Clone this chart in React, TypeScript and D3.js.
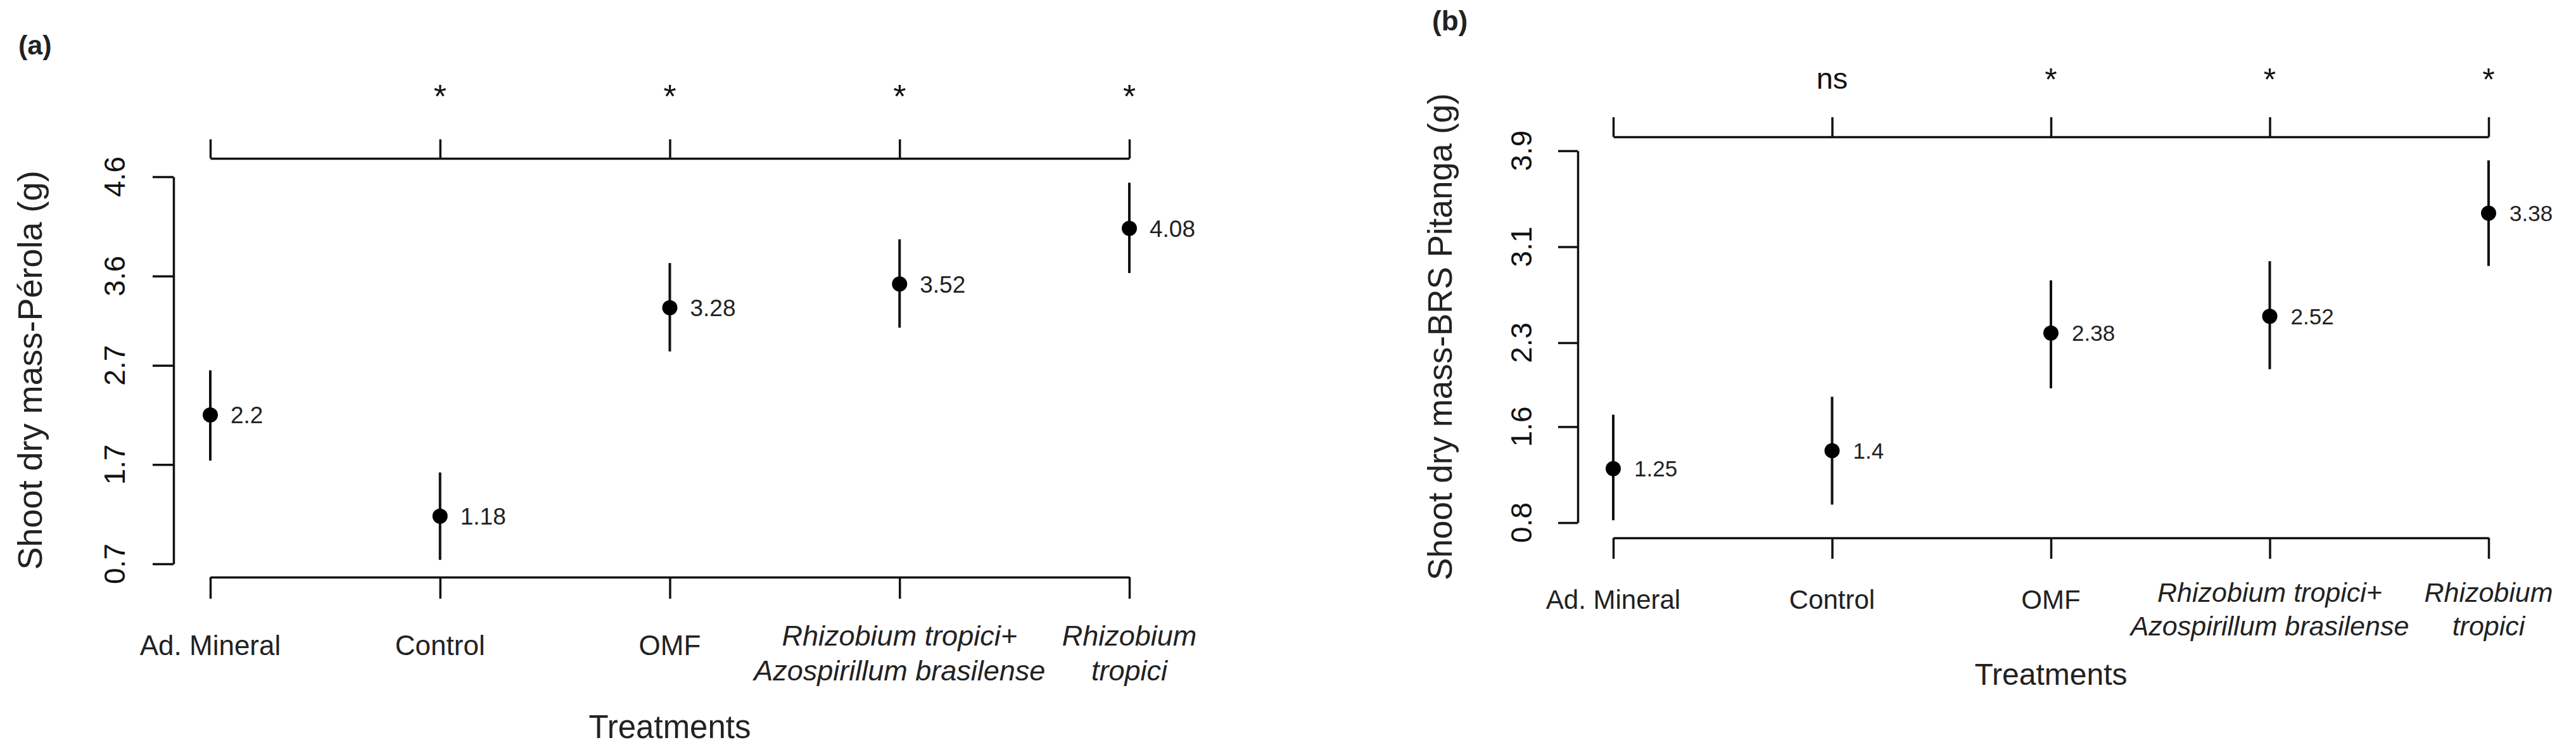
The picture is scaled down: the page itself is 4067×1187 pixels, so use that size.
import { useEffect, useRef } from "react";
import * as d3 from "d3";

// Treatments (x categories), shared by both panels
const treatments = [
  "Ad. Mineral",
  "Control",
  "OMF",
  "Rhizobium tropici+\nAzospirillum brasilense",
  "Rhizobium\ntropici",
];
const italicTreatments = [false, false, false, true, true];

// (a) Pérola
const perolaMeans = [2.2, 1.18, 3.28, 3.52, 4.08];
const perolaLower = [1.74, 0.74, 2.84, 3.08, 3.63];
const perolaUpper = [2.65, 1.62, 3.73, 3.97, 4.54];
const perolaTicks = [0.7, 1.7, 2.7, 3.6, 4.6];
const perolaSig = ["", "*", "*", "*", "*"];

// (b) BRS Pitanga
const pitangaMeans = [1.25, 1.4, 2.38, 2.52, 3.38];
const pitangaLower = [0.82, 0.95, 1.92, 2.08, 2.94];
const pitangaUpper = [1.7, 1.85, 2.82, 2.98, 3.82];
const pitangaTicks = [0.8, 1.6, 2.3, 3.1, 3.9];
const pitangaSig = ["", "ns", "*", "*", "*"];

const FONT = "'Liberation Sans', Arial, Helvetica, sans-serif";
const INK = "#111";

const panels = [
  {
    tag: "(a)",
    yTitle: "Shoot dry mass-Pérola (g)",
    means: perolaMeans, lower: perolaLower, upper: perolaUpper,
    ticks: perolaTicks, sig: perolaSig,
    x0: 332, x1: 1783, yTop: 279, yBottom: 890,
    axisX: 274, frameTop: 250, frameBottom: 911,
    tickUp: 30, tickDown: 34, yTickLen: 33,
    tagX: 29, tagY: 86, tagSize: 43,
    yTickLabelX: 197, yTickSize: 46,
    yTitleX: 66, yTitleSize: 54,
    starY: 170, nsY: 166, starSize: 52, nsSize: 47,
    valueSize: 37, valueDx: 32,
    catY: 1034, catY1: 1019, catLineH: 55, catSize: 44, italicSize: 45,
    treatY: 1165, treatSize: 51,
  },
  {
    tag: "(b)",
    yTitle: "Shoot dry mass-BRS Pitanga (g)",
    means: pitangaMeans, lower: pitangaLower, upper: pitangaUpper,
    ticks: pitangaTicks, sig: pitangaSig,
    x0: 2547, x1: 3929, yTop: 238, yBottom: 825,
    axisX: 2491, frameTop: 216, frameBottom: 849,
    tickUp: 31, tickDown: 33, yTickLen: 31,
    tagX: 2261, tagY: 48, tagSize: 44,
    yTickLabelX: 2418, yTickSize: 46,
    yTitleX: 2292, yTitleSize: 53,
    starY: 143, nsY: 140, starSize: 50, nsSize: 47,
    valueSize: 35, valueDx: 33,
    catY: 961, catY1: 950, catLineH: 53, catSize: 42, italicSize: 43,
    treatY: 1081, treatSize: 48,
  },
];

const App = () => {
  const svgRef = useRef<SVGSVGElement>(null);

  useEffect(() => {
    document.body.style.margin = "0";
    if (!svgRef.current) return;
    const svg = d3.select(svgRef.current);
    svg.selectAll("*").remove();

    panels.forEach((p) => {
      const g = svg.append("g").style("font-family", FONT).style("fill", INK);

      const x = d3.scalePoint<string>().domain(treatments).range([p.x0, p.x1]).padding(0);
      const y = d3.scaleLinear()
        .domain([p.ticks[0], p.ticks[p.ticks.length - 1]])
        .range([p.yBottom, p.yTop]);

      const styleAxis = (sel: any) => {
        sel.selectAll("path, line").attr("stroke", INK).attr("stroke-width", 3.5);
        sel.selectAll("text").remove();
      };

      // y axis
      g.append("g")
        .attr("transform", `translate(${p.axisX},0)`)
        .call(d3.axisLeft(y).tickValues(p.ticks).tickSize(p.yTickLen).tickSizeOuter(0))
        .call(styleAxis);

      // y tick labels (rotated, like R's default)
      g.selectAll(".ytl")
        .data(p.ticks)
        .join("text")
        .attr("class", "ytl")
        .attr("transform", (d) => `translate(${p.yTickLabelX},${y(d)}) rotate(-90)`)
        .attr("text-anchor", "middle")
        .style("font-size", `${p.yTickSize}px`)
        .style("fill", INK)
        .text((d) => d.toFixed(1));

      // top and bottom category axes
      g.append("g")
        .attr("transform", `translate(0,${p.frameTop})`)
        .call(d3.axisTop(x).tickSize(p.tickUp).tickSizeOuter(0))
        .call(styleAxis);
      g.append("g")
        .attr("transform", `translate(0,${p.frameBottom})`)
        .call(d3.axisBottom(x).tickSize(p.tickDown).tickSizeOuter(0))
        .call(styleAxis);

      // significance marks above top axis
      g.selectAll(".sig")
        .data(treatments.map((t, i) => ({ t, s: p.sig[i] })).filter((d) => d.s))
        .join("text")
        .attr("class", "sig")
        .attr("x", (d) => x(d.t)!)
        .attr("y", (d) => (d.s === "*" ? p.starY : p.nsY))
        .attr("text-anchor", "middle")
        .style("font-size", (d) => `${d.s === "*" ? p.starSize : p.nsSize}px`)
        .style("fill", INK)
        .text((d) => d.s);

      const rows = treatments.map((t, i) => ({
        t, mean: p.means[i], lo: p.lower[i], hi: p.upper[i], italic: italicTreatments[i],
      }));

      // error bars
      g.selectAll(".err")
        .data(rows)
        .join("line")
        .attr("class", "err")
        .attr("x1", (d) => x(d.t)!)
        .attr("x2", (d) => x(d.t)!)
        .attr("y1", (d) => y(d.lo))
        .attr("y2", (d) => y(d.hi))
        .attr("stroke", INK)
        .attr("stroke-width", 4);

      // means
      g.selectAll(".pt")
        .data(rows)
        .join("circle")
        .attr("class", "pt")
        .attr("cx", (d) => x(d.t)!)
        .attr("cy", (d) => y(d.mean))
        .attr("r", 12)
        .attr("fill", "#000");

      g.selectAll(".val")
        .data(rows)
        .join("text")
        .attr("class", "val")
        .attr("x", (d) => x(d.t)! + p.valueDx)
        .attr("y", (d) => y(d.mean))
        .attr("dy", "0.36em")
        .style("font-size", `${p.valueSize}px`)
        .style("fill", "#222")
        .text((d) => String(d.mean));

      // category labels under bottom axis
      rows.forEach((d) => {
        const lines = d.t.split("\n");
        const t = g.append("text")
          .attr("text-anchor", "middle")
          .style("font-size", `${d.italic ? p.italicSize : p.catSize}px`)
          .style("font-style", d.italic ? "italic" : "normal")
          .style("fill", "#222");
        lines.forEach((ln, k) => {
          t.append("tspan")
            .attr("x", x(d.t)!)
            .attr("y", lines.length > 1 ? p.catY1 + k * p.catLineH : p.catY)
            .text(ln);
        });
      });

      // x axis title
      g.append("text")
        .attr("x", (p.x0 + p.x1) / 2)
        .attr("y", p.treatY)
        .attr("text-anchor", "middle")
        .style("font-size", `${p.treatSize}px`)
        .style("fill", "#222")
        .text("Treatments");

      // y axis title
      g.append("text")
        .attr("transform", `translate(${p.yTitleX},${(p.yTop + p.yBottom) / 2}) rotate(-90)`)
        .attr("text-anchor", "middle")
        .style("font-size", `${p.yTitleSize}px`)
        .style("fill", "#222")
        .text(p.yTitle);

      // panel tag
      g.append("text")
        .attr("x", p.tagX)
        .attr("y", p.tagY)
        .style("font-size", `${p.tagSize}px`)
        .style("font-weight", "bold")
        .style("fill", "#222")
        .text(p.tag);
    });
  }, []);

  return (
    <svg
      ref={svgRef}
      width={4067}
      height={1187}
      style={{ display: "block", background: "#fff" }}
    />
  );
};

export default App;
